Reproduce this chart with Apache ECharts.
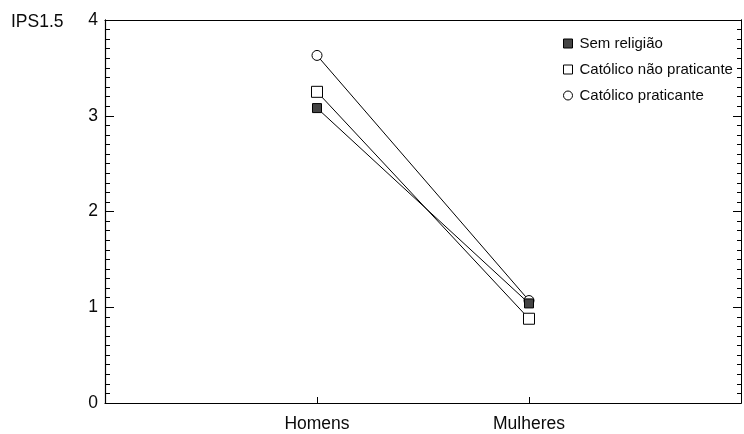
<!DOCTYPE html>
<html>
<head>
<meta charset="utf-8">
<script src="https://cdn.jsdelivr.net/npm/echarts@6/dist/echarts.min.js"></script>
<style>
  html, body { margin: 0; padding: 0; background: #fff; }
  #chart { width: 744px; height: 434px; }
</style>
</head>
<body>
<div id="chart"></div>
<script>
// Group positions on the x axis and their labels
const groups = ['Homens', 'Mulheres'];
const groupPos = [1, 2];

// IPS1.5 means per religious group
const semReligiao = [3.08, 1.04];
const catolicoNaoPraticante = [3.25, 0.88];
const catolicoPraticante = [3.63, 1.07];

const yTicks = [0, 1, 2, 3, 4];

const FONT = '"Liberation Sans", Arial, sans-serif';
const INK = '#0a0a0a';

function pairs(vals) {
  return groupPos.map((x, i) => [x, vals[i]]);
}

// Unlabelled axis carrying only the fine 0.1 ticks along one side of the frame
function fineTickAxis(position, len) {
  return {
    type: 'value', min: 0, max: 4, interval: 0.1, position,
    axisLine: { show: true, onZero: false, lineStyle: { color: '#000', width: 1 } },
    axisTick: { show: true, inside: true, length: len, lineStyle: { color: '#000', width: 1 } },
    axisLabel: { show: false },
    splitLine: { show: false }
  };
}

// Empty series that binds a frame axis so its ticks get laid out
function frameBinding(yAxisIndex) {
  return { type: 'line', yAxisIndex, data: [], silent: true, symbol: 'none' };
}

const chart = echarts.init(document.getElementById('chart'));

const lineStyle = { color: '#000', width: 1 };

chart.setOption({
  animation: false,
  backgroundColor: '#fff',
  grid: { left: 105, right: 3, top: 20, bottom: 31, containLabel: false },
  title: {
    text: 'IPS1.5',
    left: 6, top: 8,
    textStyle: { fontFamily: FONT, fontSize: 17.5, fontWeight: 'normal', color: INK }
  },
  legend: {
    orient: 'vertical',
    left: 558, top: 31,
    itemWidth: 9, itemHeight: 9,
    itemGap: 11,
    textStyle: { fontFamily: FONT, fontSize: 15, color: INK, padding: [0, 0, 0, 2] },
    data: [
      { name: 'Sem religião', icon: 'rect', itemStyle: { color: '#444', borderColor: '#000', borderWidth: 1 } },
      { name: 'Católico não praticante', icon: 'rect', itemStyle: { color: '#fff', borderColor: '#000', borderWidth: 1 } },
      { name: 'Católico praticante', icon: 'circle', itemStyle: { color: '#fff', borderColor: '#000', borderWidth: 1 } }
    ]
  },
  xAxis: [
    {
      type: 'value', min: 0, max: 3, position: 'bottom',
      axisLine: { show: true, onZero: false, lineStyle: { color: '#000', width: 1.2 } },
      axisTick: { show: true, inside: true, length: 6, customValues: groupPos, lineStyle: { color: '#000' } },
      axisLabel: {
        customValues: groupPos,
        formatter: v => groups[groupPos.indexOf(v)] || '',
        fontFamily: FONT, fontSize: 17.5, color: INK, margin: 12
      },
      splitLine: { show: false }
    },
    {
      type: 'value', min: 0, max: 3, position: 'top',
      axisLine: { show: true, onZero: false, lineStyle: { color: '#000', width: 1.2 } },
      axisTick: { show: false }, axisLabel: { show: false }, splitLine: { show: false }
    }
  ],
  yAxis: [
    {
      type: 'value', min: 0, max: 4, interval: 1, position: 'left',
      axisLine: { show: true, onZero: false, lineStyle: { color: '#000', width: 1.2 } },
      axisTick: { show: true, inside: true, length: 9, lineStyle: { color: '#000' } },
      axisLabel: {
        formatter: v => yTicks.includes(v) ? String(v) : '',
        fontFamily: FONT, fontSize: 17.5, color: INK, margin: 7
      },
      splitLine: { show: false }
    },
    {
      type: 'value', min: 0, max: 4, interval: 1, position: 'right',
      axisLine: { show: true, onZero: false, lineStyle: { color: '#000', width: 1 } },
      axisTick: { show: true, inside: true, length: 8, lineStyle: { color: '#000' } },
      axisLabel: { show: false },
      splitLine: { show: false }
    },
    fineTickAxis('left', 5),
    fineTickAxis('right', 4)
  ],
  series: [
    {
      name: 'Sem religião', type: 'line', data: pairs(semReligiao),
      symbol: 'rect', symbolSize: 9,
      itemStyle: { color: '#444', borderColor: '#000', borderWidth: 1 },
      lineStyle, z: 3
    },
    {
      name: 'Católico não praticante', type: 'line', data: pairs(catolicoNaoPraticante),
      symbol: 'rect', symbolSize: 11,
      itemStyle: { color: '#fff', borderColor: '#000', borderWidth: 1 },
      lineStyle, z: 2
    },
    {
      name: 'Católico praticante', type: 'line', data: pairs(catolicoPraticante),
      symbol: 'circle', symbolSize: 10,
      itemStyle: { color: '#fff', borderColor: '#000', borderWidth: 1 },
      lineStyle, z: 2
    },
    frameBinding(1),
    frameBinding(2),
    frameBinding(3)
  ]
});
</script>
</body>
</html>
